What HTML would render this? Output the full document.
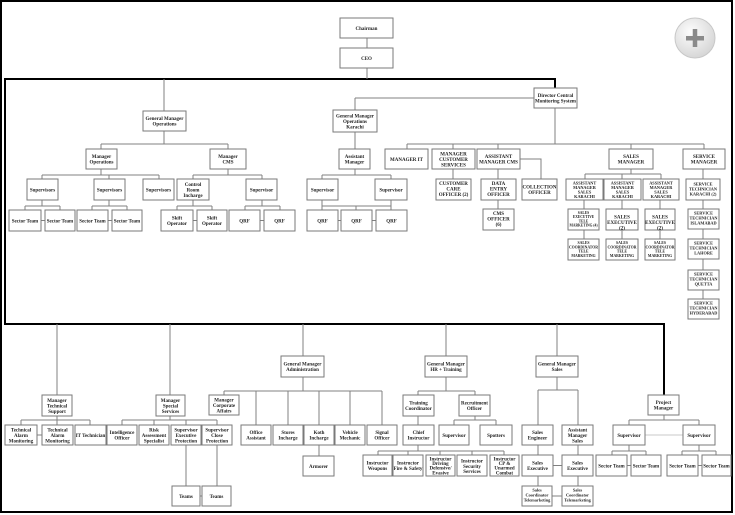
<!DOCTYPE html>
<html><head><meta charset="utf-8"><style>
html,body{margin:0;padding:0;background:#fff;}
svg{display:block;}
.b{fill:#fff;stroke:#7a7a7a;stroke-width:1;}
.l{stroke:#808080;stroke-width:1;fill:none;}
.t{stroke:#000;stroke-width:2;fill:none;}
text{font-family:"Liberation Serif",serif;font-weight:bold;font-size:5px;text-anchor:middle;fill:#222;}
.s{font-size:4.3px;}
</style></head><body>
<svg width="735" height="515" viewBox="0 0 735 515" xmlns="http://www.w3.org/2000/svg">
<defs><radialGradient id="g" cx="0.4" cy="0.35" r="0.7"><stop offset="0" stop-color="#fdfdfd"/><stop offset="1" stop-color="#d4d4d4"/></radialGradient></defs>
<rect x="1" y="1" width="731" height="511" fill="#fff" stroke="#000" stroke-width="2"/>
<circle cx="695" cy="38" r="20" fill="url(#g)" stroke="#c8c8c8"/>
<rect x="686" y="36" width="18" height="4.5" fill="#8a8a8a"/><rect x="692.75" y="29" width="4.5" height="18" fill="#8a8a8a"/>

<!-- thick frame -->
<path class="t" d="M555 88 V79 H5 V324 H664 V395"/>

<!-- thin lines -->
<path class="l" d="M367 38V48M367 68V79M164 79V111M355 98H534M355 98V110
M164 131V144M101 144H228M101 144V149M228 144V149
M101 169V175M42 175H159M42 175V179M109 175V179M159 175V179
M228 169V175M193 175H262M193 175V179M262 175V179
M42 200V206M25 206H60M25 206V210M60 206V210M109 200V206M92 206H127M92 206V210M127 206V210
M41 220.5H45M108 220.5H112
M193 200V206M177 206H212M177 206V210M212 206V210M193 220.5H197
M262 200V206M245 206H280M245 206V210M280 206V210M260 220.5H264
M355 132V149M355 169V175M322 175H391M322 175V179M391 175V179
M322 200V206M391 200V206M322 206H391M322 206V210M356 206V210M391 206V210M338 220.5H341M372 220.5H376
M555 108V144M407 144H704M407 144V149M453 144V149M498 144V149M631 144V149M704 144V149
M453 169V179M498 169V179M498 200V209M520 159H541V179
M631 169V174M585 174H661M585 174V179M622 174V179M661 174V179
M584 200V209M584 230V239M622 200V209M622 230V239M660 200V209M660 230V239
M703 169V179M703 200V209M703 229V239M703 259V270M703 290V299
M303 324V356M303 377V391M224 391H382M224 391V395M256 391V425M288 391V425M319 391V425M350 391V425M382 391V425M319 445V456
M57 324V395M57 416V420M21 420H90M21 420V425M57 420V425M90 420V425M37 435H42
M170 324V395M170 416V420M122 420H217M122 420V425M154 420V425M186 420V425M217 420V425M186 445V486M217 445V486M200 496H202
M446 324V356M446 377V391M418 391H475M418 391V395M475 391V395M418 416V425M475 416V420M454 420H496M454 420V425M496 420V425
M418 445V451M378 451H504M378 451V455M408 451V455M440 451V455M472 451V455M504 451V455
M557 324V356M557 377V390M538 390H578M538 390V425M578 390V425M538 445V455M578 445V455M553 465.5H562M538 476V486M578 476V486M552 496H562
M664 415V420M629 420H699M629 420V425M699 420V425
M629 445V451M612 451H646M612 451V455M646 451V455M627 465.5H631
M699 445V451M682 451H716M682 451V455M716 451V455M698 465.5H702"/>
<path d="M645 435H683" stroke="#c8c8c8" stroke-width="1"/>

<!-- boxes -->
<rect class="b" x="340" y="18" width="53" height="20"/><text x="366.5" y="29.8">Chairman</text>
<rect class="b" x="340" y="48" width="53" height="20"/><text x="366.5" y="59.8">CEO</text>
<rect class="b" x="534" y="88" width="43" height="20"/><text x="555.5" y="97"><tspan x="555.5">Director Central</tspan><tspan x="555.5" dy="5.5">Monitoring System</tspan></text>

<rect class="b" x="143" y="111" width="43" height="20"/><text y="120"><tspan x="164.5">General Manager</tspan><tspan x="164.5" dy="5.5">Operations</tspan></text>
<rect class="b" x="333" y="110" width="44" height="22"/><text y="117.3"><tspan x="355">General Manager</tspan><tspan x="355" dy="5.5">Operations</tspan><tspan x="355" dy="5.5">Karachi</tspan></text>
<rect class="b" x="86" y="149" width="31" height="20"/><text y="158"><tspan x="101.5">Manager</tspan><tspan x="101.5" dy="5.5">Operations</tspan></text>
<rect class="b" x="210" y="149" width="36" height="20"/><text y="158"><tspan x="228">Manager</tspan><tspan x="228" dy="5.5">CMS</tspan></text>
<rect class="b" x="339" y="149" width="31" height="20"/><text y="158"><tspan x="354.5">Assistant</tspan><tspan x="354.5" dy="5.5">Manager</tspan></text>

<rect class="b" x="27" y="179" width="31" height="21"/><text x="42.5" y="191.3">Supervisors</text>
<rect class="b" x="94" y="179" width="31" height="21"/><text x="109.5" y="191.3">Supervisors</text>
<rect class="b" x="143" y="179" width="31" height="21"/><text x="158.5" y="191.3">Supervisors</text>
<rect class="b" x="177" y="179" width="32" height="21"/><text y="185.8"><tspan x="193">Control</tspan><tspan x="193" dy="5.5">Room</tspan><tspan x="193" dy="5.5">Incharge</tspan></text>
<rect class="b" x="246" y="179" width="31" height="21"/><text x="261.5" y="191.3">Supervisor</text>
<rect class="b" x="307" y="179" width="31" height="21"/><text x="322.5" y="191.3">Supervisor</text>
<rect class="b" x="375" y="179" width="32" height="21"/><text x="391" y="191.3">Supervisor</text>

<rect class="b" x="9" y="210" width="32" height="21"/><text x="25" y="222.3">Sector Team</text>
<rect class="b" x="45" y="210" width="30" height="21"/><text x="60" y="222.3">Sector Team</text>
<rect class="b" x="77" y="210" width="31" height="21"/><text x="92.5" y="222.3">Sector Team</text>
<rect class="b" x="112" y="210" width="30" height="21"/><text x="127" y="222.3">Sector Team</text>
<rect class="b" x="161" y="210" width="32" height="21"/><text y="219.5"><tspan x="177">Skift</tspan><tspan x="177" dy="5.5">Operator</tspan></text>
<rect class="b" x="197" y="210" width="30" height="21"/><text y="219.5"><tspan x="212">Skift</tspan><tspan x="212" dy="5.5">Operator</tspan></text>
<rect class="b" x="229" y="210" width="31" height="21"/><text x="244.5" y="222.3">QRF</text>
<rect class="b" x="264" y="210" width="31" height="21"/><text x="279.5" y="222.3">QRF</text>
<rect class="b" x="307" y="210" width="31" height="21"/><text x="322.5" y="222.3">QRF</text>
<rect class="b" x="341" y="210" width="31" height="21"/><text x="356.5" y="222.3">QRF</text>
<rect class="b" x="376" y="210" width="31" height="21"/><text x="391.5" y="222.3">QRF</text>

<rect class="b" x="385" y="149" width="43" height="20"/><text x="406.5" y="160.8">MANAGER IT</text>
<rect class="b" x="432" y="149" width="43" height="20"/><text y="155.3"><tspan x="453.5">MANAGER</tspan><tspan x="453.5" dy="5.5">CUSTOMER</tspan><tspan x="453.5" dy="5.5">SERVICES</tspan></text>
<rect class="b" x="477" y="149" width="43" height="20"/><text y="158"><tspan x="498.5">ASSISTANT</tspan><tspan x="498.5" dy="5.5">MANAGER CMS</tspan></text>
<rect class="b" x="609" y="149" width="44" height="20"/><text y="158"><tspan x="631">SALES</tspan><tspan x="631" dy="5.5">MANAGER</tspan></text>
<rect class="b" x="683" y="149" width="42" height="20"/><text y="158"><tspan x="704">SERVICE</tspan><tspan x="704" dy="5.5">MANAGER</tspan></text>

<rect class="b" x="436" y="179" width="35" height="21"/><text y="184.8"><tspan x="453.5">CUSTOMER</tspan><tspan x="453.5" dy="5.5">CARE</tspan><tspan x="453.5" dy="5.5">OFFICER (2)</tspan></text>
<rect class="b" x="481" y="179" width="35" height="21"/><text y="184.8"><tspan x="498.5">DATA</tspan><tspan x="498.5" dy="5.5">ENTRY</tspan><tspan x="498.5" dy="5.5">OFFICER</tspan></text>
<rect class="b" x="522" y="179" width="35" height="21"/><text y="188.5"><tspan x="539.5">COLLECTION</tspan><tspan x="539.5" dy="5.5">OFFICER</tspan></text>
<rect class="b" x="566" y="179" width="37" height="21"/><text class="s" y="184.5"><tspan x="584.5">ASSISTANT</tspan><tspan x="584.5" dy="4.5">MANAGER</tspan><tspan x="584.5" dy="4.5">SALES</tspan><tspan x="584.5" dy="4.5">KARACHI</tspan></text>
<rect class="b" x="604" y="179" width="37" height="21"/><text class="s" y="184.5"><tspan x="622.5">ASSISTANT</tspan><tspan x="622.5" dy="4.5">MANAGER</tspan><tspan x="622.5" dy="4.5">SALES</tspan><tspan x="622.5" dy="4.5">KARACHI</tspan></text>
<rect class="b" x="643" y="179" width="36" height="21"/><text class="s" y="184.5"><tspan x="661">ASSISTANT</tspan><tspan x="661" dy="4.5">MANAGER</tspan><tspan x="661" dy="4.5">SALES</tspan><tspan x="661" dy="4.5">KARACHI</tspan></text>
<rect class="b" x="686" y="179" width="34" height="21"/><text class="s" y="185.5"><tspan x="703">SERVICE</tspan><tspan x="703" dy="5">TECHNICIAN</tspan><tspan x="703" dy="5">KARACHI (2)</tspan></text>

<rect class="b" x="483" y="209" width="31" height="21"/><text y="214.8"><tspan x="498.5">CMS</tspan><tspan x="498.5" dy="5.5">OFFICER</tspan><tspan x="498.5" dy="5.5">(6)</tspan></text>
<rect class="b" x="568" y="209" width="31" height="21"/><text class="s" style="font-size:3.6px" y="214"><tspan x="583.5">SALES</tspan><tspan x="583.5" dy="4.2">EXECUTIVE</tspan><tspan x="583.5" dy="4.2">TELE</tspan><tspan x="583.5" dy="4.2">MARKETING (4)</tspan></text>
<rect class="b" x="606" y="209" width="32" height="21"/><text y="218.5"><tspan x="622">SALES</tspan><tspan x="622" dy="5.5">EXECUTIVE</tspan><tspan x="622" dy="5.5">(2)</tspan></text>
<rect class="b" x="645" y="209" width="30" height="21"/><text y="218.5"><tspan x="660">SALES</tspan><tspan x="660" dy="5.5">EXECUTIVE</tspan><tspan x="660" dy="5.5">(2)</tspan></text>
<rect class="b" x="568" y="239" width="31" height="21"/><text class="s" style="font-size:3.8px" y="244"><tspan x="583.5">SALES</tspan><tspan x="583.5" dy="4.3">COORDINATOR</tspan><tspan x="583.5" dy="4.3">TELE</tspan><tspan x="583.5" dy="4.3">MARKETING</tspan></text>
<rect class="b" x="606" y="239" width="32" height="21"/><text class="s" style="font-size:3.8px" y="244"><tspan x="622">SALES</tspan><tspan x="622" dy="4.3">COORDINATOR</tspan><tspan x="622" dy="4.3">TELE</tspan><tspan x="622" dy="4.3">MARKETING</tspan></text>
<rect class="b" x="645" y="239" width="30" height="21"/><text class="s" style="font-size:3.8px" y="244"><tspan x="660">SALES</tspan><tspan x="660" dy="4.3">COORDINATOR</tspan><tspan x="660" dy="4.3">TELE</tspan><tspan x="660" dy="4.3">MARKETING</tspan></text>
<rect class="b" x="688" y="209" width="31" height="20"/><text class="s" y="214.5"><tspan x="703.5">SERVICE</tspan><tspan x="703.5" dy="5">TECHNICIAN</tspan><tspan x="703.5" dy="5">ISLAMABAD</tspan></text>
<rect class="b" x="688" y="239" width="31" height="20"/><text class="s" y="244.5"><tspan x="703.5">SERVICE</tspan><tspan x="703.5" dy="5">TECHNICIAN</tspan><tspan x="703.5" dy="5">LAHORE</tspan></text>
<rect class="b" x="688" y="270" width="31" height="20"/><text class="s" y="275.5"><tspan x="703.5">SERVICE</tspan><tspan x="703.5" dy="5">TECHNICIAN</tspan><tspan x="703.5" dy="5">QUETTA</tspan></text>
<rect class="b" x="688" y="299" width="31" height="20"/><text class="s" y="304.5"><tspan x="703.5">SERVICE</tspan><tspan x="703.5" dy="5">TECHNICIAN</tspan><tspan x="703.5" dy="5">HYDERABAD</tspan></text>

<!-- bottom -->
<rect class="b" x="281" y="356" width="43" height="21"/><text y="365.5"><tspan x="302.5">General Manager</tspan><tspan x="302.5" dy="5.5">Administration</tspan></text>
<rect class="b" x="425" y="356" width="42" height="21"/><text y="365.5"><tspan x="446">General Manager</tspan><tspan x="446" dy="5.5">HR + Training</tspan></text>
<rect class="b" x="536" y="356" width="42" height="21"/><text y="365.5"><tspan x="557">General Manager</tspan><tspan x="557" dy="5.5">Sales</tspan></text>

<rect class="b" x="42" y="395" width="30" height="21"/><text y="401.8"><tspan x="57">Manager</tspan><tspan x="57" dy="5.5">Technical</tspan><tspan x="57" dy="5.5">Support</tspan></text>
<rect class="b" x="156" y="395" width="29" height="21"/><text y="401.8"><tspan x="170.5">Manager</tspan><tspan x="170.5" dy="5.5">Special</tspan><tspan x="170.5" dy="5.5">Services</tspan></text>
<rect class="b" x="209" y="395" width="30" height="20"/><text y="401.3"><tspan x="224">Manager</tspan><tspan x="224" dy="5.5">Corporate</tspan><tspan x="224" dy="5.5">Affairs</tspan></text>
<rect class="b" x="403" y="395" width="31" height="21"/><text y="404.5"><tspan x="418.5">Training</tspan><tspan x="418.5" dy="5.5">Coordinator</tspan></text>
<rect class="b" x="459" y="395" width="31" height="21"/><text y="404.5"><tspan x="474.5">Recruitment</tspan><tspan x="474.5" dy="5.5">Officer</tspan></text>
<rect class="b" x="648" y="395" width="31" height="20"/><text y="404"><tspan x="663.5">Project</tspan><tspan x="663.5" dy="5.5">Manager</tspan></text>

<rect class="b" x="5" y="425" width="32" height="20"/><text y="431.3"><tspan x="21">Technical</tspan><tspan x="21" dy="5.5">Alarm</tspan><tspan x="21" dy="5.5">Monitoring</tspan></text>
<rect class="b" x="42" y="425" width="31" height="20"/><text y="431.3"><tspan x="57.5">Technical</tspan><tspan x="57.5" dy="5.5">Alarm</tspan><tspan x="57.5" dy="5.5">Monitoring</tspan></text>
<rect class="b" x="75" y="425" width="31" height="20"/><text x="90.5" y="436.8">IT Technician</text>
<rect class="b" x="107" y="425" width="30" height="20"/><text y="434"><tspan x="122">Intelligence</tspan><tspan x="122" dy="5.5">Officer</tspan></text>
<rect class="b" x="139" y="425" width="30" height="20"/><text y="431.3"><tspan x="154">Risk</tspan><tspan x="154" dy="5.5">Assessment</tspan><tspan x="154" dy="5.5">Specialist</tspan></text>
<rect class="b" x="171" y="425" width="30" height="20"/><text y="431.3"><tspan x="186">Supervisor</tspan><tspan x="186" dy="5.5">Executive</tspan><tspan x="186" dy="5.5">Protection</tspan></text>
<rect class="b" x="202" y="425" width="30" height="20"/><text y="431.3"><tspan x="217">Supervisor</tspan><tspan x="217" dy="5.5">Close</tspan><tspan x="217" dy="5.5">Protection</tspan></text>
<rect class="b" x="241" y="425" width="30" height="20"/><text y="434"><tspan x="256">Office</tspan><tspan x="256" dy="5.5">Assistant</tspan></text>
<rect class="b" x="273" y="425" width="30" height="20"/><text y="434"><tspan x="288">Stores</tspan><tspan x="288" dy="5.5">Incharge</tspan></text>
<rect class="b" x="304" y="425" width="30" height="20"/><text y="434"><tspan x="319">Koth</tspan><tspan x="319" dy="5.5">Incharge</tspan></text>
<rect class="b" x="335" y="425" width="30" height="20"/><text y="434"><tspan x="350">Vehicle</tspan><tspan x="350" dy="5.5">Mechanic</tspan></text>
<rect class="b" x="367" y="425" width="30" height="20"/><text y="434"><tspan x="382">Signal</tspan><tspan x="382" dy="5.5">Officer</tspan></text>
<rect class="b" x="403" y="425" width="31" height="20"/><text y="434"><tspan x="418.5">Chief</tspan><tspan x="418.5" dy="5.5">Instructor</tspan></text>
<rect class="b" x="439" y="425" width="30" height="20"/><text x="454" y="436.8">Supervisor</text>
<rect class="b" x="480" y="425" width="32" height="20"/><text x="496" y="436.8">Spotters</text>
<rect class="b" x="522" y="425" width="31" height="20"/><text y="434"><tspan x="537.5">Sales</tspan><tspan x="537.5" dy="5.5">Engineer</tspan></text>
<rect class="b" x="562" y="425" width="31" height="20"/><text y="431.3"><tspan x="577.5">Assistant</tspan><tspan x="577.5" dy="5.5">Manager</tspan><tspan x="577.5" dy="5.5">Sales</tspan></text>
<rect class="b" x="613" y="425" width="32" height="20"/><text x="629" y="436.8">Supervisor</text>
<rect class="b" x="683" y="425" width="32" height="20"/><text x="699" y="436.8">Supervisor</text>

<rect class="b" x="303" y="456" width="31" height="20"/><text x="318.5" y="467.8">Armorer</text>
<rect class="b" x="363" y="455" width="29" height="21"/><text y="464.5"><tspan x="377.5">Instructor</tspan><tspan x="377.5" dy="5.5">Weapons</tspan></text>
<rect class="b" x="393" y="455" width="30" height="21"/><text y="464.5"><tspan x="408">Instructor</tspan><tspan x="408" dy="5.5">Fire &amp; Safety</tspan></text>
<rect class="b" x="426" y="455" width="29" height="21"/><text y="460.5"><tspan x="440.5">Instructor</tspan><tspan x="440.5" dy="4.6">Driving</tspan><tspan x="440.5" dy="4.6">Defensive/</tspan><tspan x="440.5" dy="4.6">Evasive</tspan></text>
<rect class="b" x="457" y="455" width="30" height="21"/><text y="462.5"><tspan x="472">Instructor</tspan><tspan x="472" dy="5.3">Security</tspan><tspan x="472" dy="5.3">Services</tspan></text>
<rect class="b" x="490" y="455" width="29" height="21"/><text y="460.5"><tspan x="504.5">Instructor</tspan><tspan x="504.5" dy="4.6">CP &amp;</tspan><tspan x="504.5" dy="4.6">Unarmed</tspan><tspan x="504.5" dy="4.6">Combat</tspan></text>
<rect class="b" x="522" y="455" width="31" height="21"/><text y="464.5"><tspan x="537.5">Sales</tspan><tspan x="537.5" dy="5.5">Executive</tspan></text>
<rect class="b" x="562" y="455" width="31" height="21"/><text y="464.5"><tspan x="577.5">Sales</tspan><tspan x="577.5" dy="5.5">Executive</tspan></text>
<rect class="b" x="596" y="455" width="31" height="21"/><text x="611.5" y="467.3">Sector Team</text>
<rect class="b" x="631" y="455" width="30" height="21"/><text x="646" y="467.3">Sector Team</text>
<rect class="b" x="667" y="455" width="31" height="21"/><text x="682.5" y="467.3">Sector Team</text>
<rect class="b" x="702" y="455" width="29" height="21"/><text x="716.5" y="467.3">Sector Team</text>

<rect class="b" x="172" y="486" width="28" height="20"/><text x="186" y="497.8">Teams</text>
<rect class="b" x="202" y="486" width="29" height="20"/><text x="216.5" y="497.8">Teams</text>
<rect class="b" x="522" y="486" width="30" height="20"/><text class="s" y="491.5"><tspan x="537">Sales</tspan><tspan x="537" dy="5">Coordinator</tspan><tspan x="537" dy="5">Telemarketing</tspan></text>
<rect class="b" x="562" y="486" width="31" height="20"/><text class="s" y="491.5"><tspan x="577.5">Sales</tspan><tspan x="577.5" dy="5">Coordinator</tspan><tspan x="577.5" dy="5">Telemarketing</tspan></text>
</svg>
</body></html>
